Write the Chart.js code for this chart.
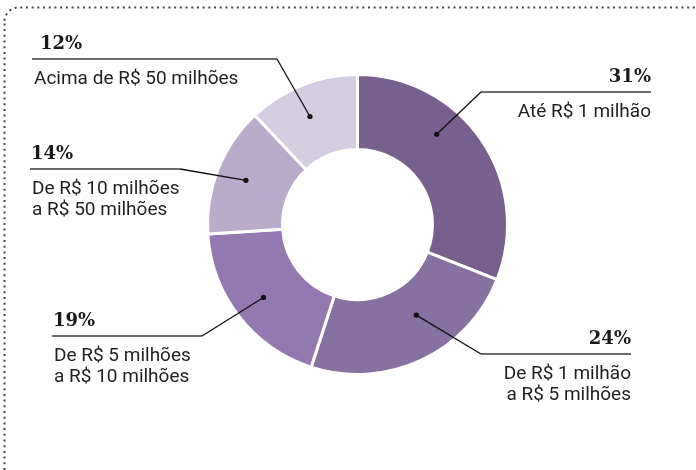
<!DOCTYPE html>
<html>
<head>
<meta charset="utf-8">
<script src="https://cdn.jsdelivr.net/npm/chart.js@4"></script>
<style>
  html, body { margin: 0; padding: 0; background: #fff; }
  #wrap { width: 696px; height: 470px; position: relative; }
</style>
</head>
<body>
<div id="wrap"><canvas id="chart" width="696" height="470"></canvas></div>
<script>
// dados
var categorias = [
  ["Até R$ 1 milhão"],
  ["De R$ 1 milhão", "a R$ 5 milhões"],
  ["De R$ 5 milhões", "a R$ 10 milhões"],
  ["De R$ 10 milhões", "a R$ 50 milhões"],
  ["Acima de R$ 50 milhões"]
];
var valores = [31, 24, 19, 14, 12];
var rotulos = ["31%", "24%", "19%", "14%", "12%"];

var cores = ["#77608d", "#8671a1", "#9479b0", "#b9abca", "#d4cce0"];

// onde fica cada rótulo (x da linha, y da linha, lado, fim da linha)
// at = fração do arco onde cai o ponto, px = recuo do número
var caixas = [
  { x0: 481, x1: 651, y: 92,  align: "right", elbow: 481, at: 0.37, r: 120, px: 0 },
  { x0: 481, x1: 631, y: 354, align: "right", elbow: 481, at: 0.41, r: 108, px: 0 },
  { x0: 52,  x1: 202, y: 336, align: "left",  elbow: 202, at: 0.5,  r: 119, px: 1 },
  { x0: 30,  x1: 180, y: 169, align: "left",  elbow: 180, at: 0.5,  r: 120, px: 1 },
  { x0: 32,  x1: 277, y: 59,  align: "left",  elbow: 277, at: 0.45, r: 118, px: 8 }
];

const moldura = {
  id: "moldura",
  beforeDraw(chart) {
    const c = chart.ctx;
    c.save();
    c.strokeStyle = "#444";
    c.lineWidth = 2;
    c.setLineDash([2, 3.7]);
    c.beginPath();
    c.moveTo(4.5, 470);
    c.lineTo(4.5, 21);
    c.arcTo(4.5, 7.5, 18.5, 7.5, 14);
    c.lineTo(696, 7.5);
    c.stroke();
    c.restore();
  }
};

const rotulosPlugin = {
  id: "rotulos",
  afterDatasetsDraw(chart) {
    const c = chart.ctx;
    const meta = chart.getDatasetMeta(0);
    c.save();
    meta.data.forEach(function (arc, i) {
      const p = arc.getProps(["x", "y", "startAngle", "endAngle"], true);
      const b = caixas[i];
      const ang = p.startAngle + (p.endAngle - p.startAngle) * b.at;
      const dx = p.x + Math.cos(ang) * b.r;
      const dy = p.y + Math.sin(ang) * b.r;

      // linha horizontal
      c.strokeStyle = "#3a3a3a";
      c.lineWidth = 1.6;
      c.beginPath();
      c.moveTo(b.x0, b.y);
      c.lineTo(b.x1, b.y);
      c.stroke();
      // diagonal até o ponto
      c.strokeStyle = "#111";
      c.lineWidth = 1.3;
      c.beginPath();
      c.moveTo(b.elbow, b.y);
      c.lineTo(dx, dy);
      c.stroke();
      c.fillStyle = "#111";
      c.beginPath();
      c.arc(dx, dy, 2.6, 0, Math.PI * 2);
      c.fill();

      const tx = b.align === "right" ? b.x1 : b.x0 + 2;
      c.textAlign = b.align;
      c.textBaseline = "alphabetic";
      c.fillStyle = "#1a1a1a";
      c.font = "bold 18px 'DejaVu Serif'";
      c.fillText(rotulos[i], b.align === "right" ? b.x1 : b.x0 + b.px, b.y - 10);
      c.fillStyle = "#1f1f1f";
      c.font = "19px Roboto";
      categorias[i].forEach(function (linha, k) {
        c.fillText(linha, tx, b.y + 25 + k * 21);
      });
    });
    c.restore();
  }
};

new Chart(document.getElementById("chart"), {
  type: "doughnut",
  data: {
    labels: categorias.map(function (l) { return l.join(" "); }),
    datasets: [{
      data: valores,
      backgroundColor: cores,
      borderColor: "#ffffff",
      borderWidth: 3,
      hoverOffset: 0
    }]
  },
  options: {
    responsive: false,
    animation: false,
    cutout: "50%",
    layout: { padding: { left: 206, right: 187, top: 73, bottom: 94 } },
    plugins: {
      legend: { display: false },
      tooltip: { enabled: false }
    }
  },
  plugins: [moldura, rotulosPlugin]
});
</script>
</body>
</html>
